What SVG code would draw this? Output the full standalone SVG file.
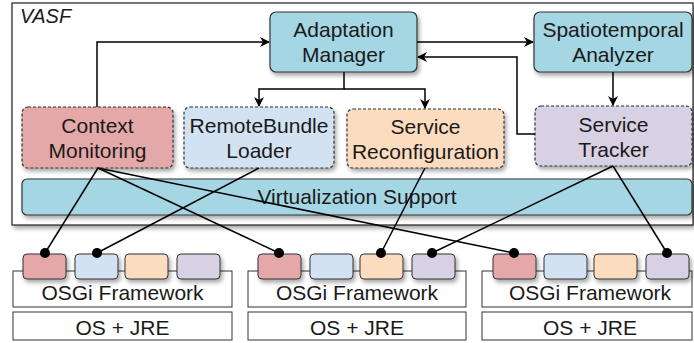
<svg xmlns="http://www.w3.org/2000/svg" width="694" height="343" viewBox="0 0 694 343">
<defs>
<filter id="sh" x="-10%" y="-10%" width="130%" height="150%">
<feDropShadow dx="2" dy="3" stdDeviation="2" flood-color="#000" flood-opacity="0.35"/>
</filter>
<marker id="ah" viewBox="0 0 10 10" refX="9" refY="5" markerWidth="10" markerHeight="10" markerUnits="userSpaceOnUse" orient="auto">
<path d="M0,0 L10,5 L0,10 L3,5 z" fill="#000"/>
</marker>
<style>
text{font-family:"Liberation Sans",Arial,sans-serif;font-size:21px;fill:#1a1a1a;text-anchor:middle}
.solid{stroke:#333;stroke-width:1.2}
.dash{stroke:#333;stroke-width:1.2;stroke-dasharray:3,2}
.teal{fill:#a5d6e3}
.red{fill:#e4a8a8}
.blue{fill:#d2e2f3}
.peach{fill:#fcdcbf}
.purple{fill:#d8d0e3}
.plain{fill:#fff;stroke:#333;stroke-width:1}
.bund{stroke:#333;stroke-width:1}
.ln{stroke:#000;stroke-width:1.5;fill:none}
.dot{fill:#000}
</style>
</defs>

<g id="vasf">
<rect x="12" y="3" width="681" height="222" fill="#fff" stroke="#222" stroke-width="1.2" filter="url(#sh)"/>
<text x="20" y="23" style="text-anchor:start;font-style:italic;font-size:20px">VASF</text>
</g>

<g id="adaptation-manager">
<rect x="270" y="12" width="147" height="60" rx="6" class="teal solid" filter="url(#sh)"/>
<text x="343.5" y="37">Adaptation</text>
<text x="343.5" y="62">Manager</text>
</g>

<g id="spatiotemporal-analyzer">
<rect x="534" y="12" width="158" height="60" rx="6" class="teal solid" filter="url(#sh)"/>
<text x="613" y="37">Spatiotemporal</text>
<text x="613" y="62">Analyzer</text>
</g>

<g id="context-monitoring">
<rect x="22" y="107" width="151" height="61" rx="6" class="red dash" filter="url(#sh)"/>
<text x="97.5" y="133">Context</text>
<text x="97.5" y="158">Monitoring</text>
</g>

<g id="remotebundle-loader">
<rect x="184" y="107" width="150" height="61" rx="6" class="blue dash" filter="url(#sh)"/>
<text x="259" y="133">RemoteBundle</text>
<text x="259" y="158">Loader</text>
</g>

<g id="service-reconfiguration">
<rect x="347" y="109" width="157" height="59" rx="6" class="peach dash" filter="url(#sh)"/>
<text x="425.5" y="134">Service</text>
<text x="425.5" y="159">Reconfiguration</text>
</g>

<g id="service-tracker">
<rect x="535" y="106" width="157" height="60" rx="6" class="purple dash" filter="url(#sh)"/>
<text x="613.5" y="132">Service</text>
<text x="613.5" y="157">Tracker</text>
</g>

<g id="virtualization-support">
<rect x="22" y="179" width="670" height="36" rx="5" class="teal solid" filter="url(#sh)"/>
<text x="357" y="204">Virtualization Support</text>
</g>

<g id="stack1">
<rect x="13" y="271" width="219" height="36" class="plain"/>
<rect x="13" y="312" width="219" height="28" class="plain"/>
<text x="122.5" y="300">OSGi Framework</text>
<text x="122.5" y="335">OS + JRE</text>
<rect x="23" y="254" width="43" height="25" rx="4" class="red bund" filter="url(#sh)"/>
<rect x="75" y="254" width="43" height="25" rx="4" class="blue bund" filter="url(#sh)"/>
<rect x="125" y="254" width="43" height="25" rx="4" class="peach bund" filter="url(#sh)"/>
<rect x="177" y="254" width="43" height="25" rx="4" class="purple bund" filter="url(#sh)"/>
</g>

<g id="stack2">
<rect x="248" y="271" width="218" height="36" class="plain"/>
<rect x="248" y="312" width="218" height="28" class="plain"/>
<text x="357" y="300">OSGi Framework</text>
<text x="357" y="335">OS + JRE</text>
<rect x="258" y="254" width="43" height="25" rx="4" class="red bund" filter="url(#sh)"/>
<rect x="310" y="254" width="43" height="25" rx="4" class="blue bund" filter="url(#sh)"/>
<rect x="360" y="254" width="43" height="25" rx="4" class="peach bund" filter="url(#sh)"/>
<rect x="412" y="254" width="43" height="25" rx="4" class="purple bund" filter="url(#sh)"/>
</g>

<g id="stack3">
<rect x="482" y="271" width="210" height="36" class="plain"/>
<rect x="482" y="312" width="210" height="28" class="plain"/>
<text x="590" y="300">OSGi Framework</text>
<text x="590" y="335">OS + JRE</text>
<rect x="493" y="254" width="43" height="25" rx="4" class="red bund" filter="url(#sh)"/>
<rect x="544" y="254" width="43" height="25" rx="4" class="blue bund" filter="url(#sh)"/>
<rect x="594" y="254" width="43" height="25" rx="4" class="peach bund" filter="url(#sh)"/>
<rect x="646" y="254" width="43" height="25" rx="4" class="purple bund" filter="url(#sh)"/>
</g>

<g id="connectors">
<path d="M97,107 V42 H269" class="ln" marker-end="url(#ah)"/>
<path d="M344,72 V89 H259 V106" class="ln" marker-end="url(#ah)"/>
<path d="M344,89 H425 V108" class="ln" marker-end="url(#ah)"/>
<path d="M417,42 H533" class="ln" marker-end="url(#ah)"/>
<path d="M535,134 H517 V57 H418" class="ln" marker-end="url(#ah)"/>
<path d="M613,72 V105" class="ln" marker-end="url(#ah)"/>
<path d="M98,168 L45,253" class="ln"/>
<path d="M98,168 L279,253" class="ln"/>
<path d="M98,168 L514,253" class="ln"/>
<path d="M259,168 L97,253" class="ln"/>
<path d="M425,168 L381,253" class="ln"/>
<path d="M613,166 L432,253" class="ln"/>
<path d="M613,166 L667,253" class="ln"/>
<circle cx="45" cy="253" r="5" class="dot"/>
<circle cx="97" cy="253" r="5" class="dot"/>
<circle cx="279" cy="253" r="5" class="dot"/>
<circle cx="381" cy="253" r="5" class="dot"/>
<circle cx="432" cy="253" r="5" class="dot"/>
<circle cx="514" cy="253" r="5" class="dot"/>
<circle cx="667" cy="253" r="5" class="dot"/>
</g>
</svg>
